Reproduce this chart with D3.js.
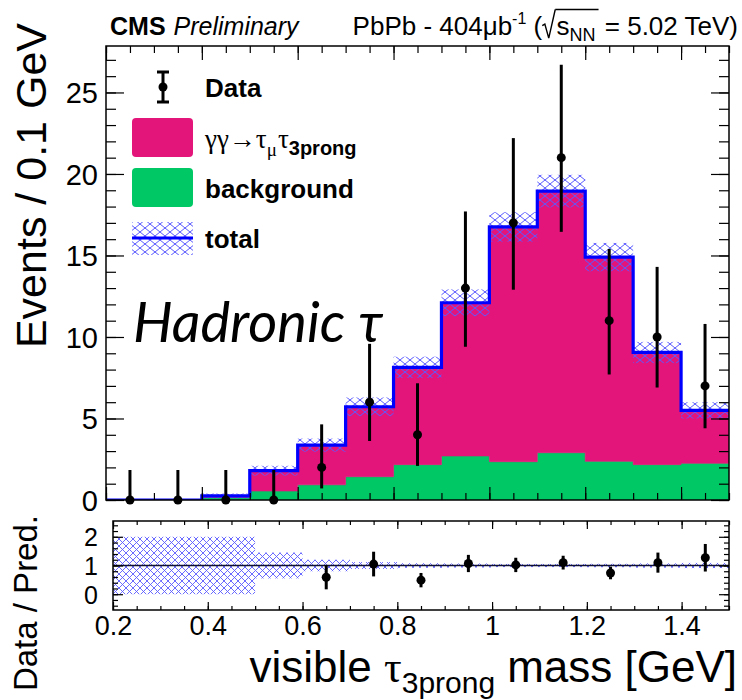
<!DOCTYPE html>
<html>
<head>
<meta charset="utf-8">
<script src="https://cdn.jsdelivr.net/npm/d3@7"></script>
<style>
  html, body { margin: 0; padding: 0; background: #fff; }
  svg { display: block; }
</style>
</head>
<body>
<script>
// ---- histogram content: 13 bins of 0.1 GeV between 0.2 and 1.5 GeV ----
const binCenters      = [0.25, 0.35, 0.45, 0.55, 0.65, 0.75, 0.85, 0.95, 1.05, 1.15, 1.25, 1.35, 1.45];
const binWidth        = 0.1;
const signalYield     = [0, 0, 0.10, 1.25, 2.44, 4.29, 5.97, 9.40, 14.40, 16.05, 12.53, 6.88, 3.25];
const backgroundYield = [0, 0, 0.15, 0.55, 0.93, 1.43, 2.17, 2.70, 2.35, 2.90, 2.37, 2.17, 2.25];
const totalUnc        = [0, 0, 0.15, 0.30, 0.40, 0.57, 0.65, 0.82, 0.90, 1.00, 0.87, 0.65, 0.50];

const dataCounts  = [0, 0, 0, 0, 2, 6, 4, 13, 17, 21, 11, 10, 7];
const dataErrLow  = [0, 0, 0, 0, 1.29, 2.38, 1.91, 3.60, 4.10, 4.55, 3.30, 3.10, 2.60];
const dataErrHigh = [1.84, 1.84, 1.84, 1.84, 2.64, 3.58, 3.16, 4.70, 5.20, 5.70, 4.40, 4.30, 3.80];

// ---- ratio panel ----
const ratioValues = [null, null, null, null, 0.59, 1.05, 0.49, 1.07, 1.02, 1.10, 0.74, 1.10, 1.27];
const ratioErrors = [null, null, null, null, 0.42, 0.43, 0.25, 0.30, 0.25, 0.24, 0.22, 0.35, 0.48];
const ratioBand   = [1, 1, 1, 0.45, 0.20, 0.12, 0.08, 0.07, 0.055, 0.055, 0.06, 0.075, 0.09];

// ---- axis ticks ----
const yTickValues     = [0, 5, 10, 15, 20, 25];
const ratioTickValues = [0, 1, 2];
const xTickValues     = [0.2, 0.4, 0.6, 0.8, 1.0, 1.2, 1.4];

const SANS  = "'Liberation Sans', Arial, Helvetica, sans-serif";
const SERIF = "'Liberation Serif', 'Times New Roman', serif";
const SIGNAL_COLOR = "#e3157b";
const BKG_COLOR    = "#00c865";
const TOTAL_COLOR  = "#0000ff";
const HATCH_COLOR  = "#5a5aff";

const W = 742, H = 700;
const svg = d3.select("body").append("svg").attr("width", W).attr("height", H);
svg.append("rect").attr("width", W).attr("height", H).attr("fill", "#fff");

// hatching used for the total uncertainty
const defs = svg.append("defs");
function hatch(id, w, h, sw) {
  const p = defs.append("pattern").attr("id", id)
    .attr("patternUnits", "userSpaceOnUse").attr("width", w).attr("height", h);
  p.append("path").attr("d", `M0,0L${w},${h}M0,${h}L${w},0M${-w},${h}L0,0M${w},${h}L${2*w},0`)
    .attr("stroke", HATCH_COLOR).attr("stroke-width", sw).attr("fill", "none");
}
hatch("hatchMain", 10, 8, 1);
hatch("hatchRatio", 7, 7, 0.9);

// ---- rich text helper (sub/superscripts, radicals) ----
function richText(parent, x, y, parts, opts = {}) {
  const g = parent.append("g");
  const inner = g.append("g");
  let cx = 0;
  let overStart = null, overEnd = null, overY = 0;
  parts.forEach(p => {
    if (p.radical) {
      const s = p.size;
      const rw = 0.55 * s;
      inner.append("path")
        .attr("d", `M${cx},${-0.36*s}L${cx+0.1*s},${-0.42*s}L${cx+0.25*s},${0.12*s}L${cx+0.5*s},${-0.98*s}`)
        .attr("fill", "none").attr("stroke", "#000").attr("stroke-width", 1.4);
      overStart = cx + 0.5 * s; overY = -0.98 * s;
      cx += rw;
      return;
    }
    const el = inner.append("text")
      .attr("y", p.dy || 0)
      .attr("xml:space", "preserve")
      .style("white-space", "pre")
      .style("font-family", p.family || SANS)
      .style("font-size", p.size + "px")
      .style("font-weight", p.weight || "normal")
      .style("font-style", p.style || "normal")
      .attr("fill", "#000")
      .text(p.t);
    const w = el.node().getComputedTextLength();
    el.attr("x", cx);
    cx += w + (p.gap || 0);
    if (p.over) overEnd = cx;
  });
  if (overStart !== null && overEnd !== null) {
    inner.append("line").attr("x1", overStart).attr("x2", overEnd + 1)
      .attr("y1", overY).attr("y2", overY).attr("stroke", "#000").attr("stroke-width", 1.4);
  }
  const off = opts.anchor === "end" ? -cx : opts.anchor === "middle" ? -cx / 2 : 0;
  inner.attr("transform", `translate(${off},0)`);
  g.attr("transform", `translate(${x},${y})` + (opts.rotate ? ` rotate(${opts.rotate})` : ""));
  return g;
}

// ---- main panel ----
const main = { left: 106, right: 729, top: 46, bottom: 500 };
const x = d3.scaleLinear().domain([0.2, 1.5]).range([main.left, main.right]);
const y = d3.scaleLinear().domain([0, 27.85]).range([main.bottom, main.top]);

defs.append("clipPath").attr("id", "clipMain").append("rect")
  .attr("x", main.left).attr("y", main.top)
  .attr("width", main.right - main.left).attr("height", main.bottom - main.top);

const rows = binCenters.map((c, i) => ({
  lo: c - binWidth / 2, hi: c + binWidth / 2,
  background: backgroundYield[i], signal: signalYield[i]
}));
const stacked = d3.stack().keys(["background", "signal"])(rows);

// step points: two per bin so that neighbouring bins meet with vertical edges
function stepPoints(series) {
  const pts = [];
  series.forEach((d, i) => {
    pts.push({ x: rows[i].lo, y0: d[0], y1: d[1] });
    pts.push({ x: rows[i].hi, y0: d[0], y1: d[1] });
  });
  return pts;
}
const stepArea = d3.area().x(d => x(d.x)).y0(d => y(d.y0)).y1(d => y(d.y1));

const plot = svg.append("g").attr("clip-path", "url(#clipMain)");
const fills = { background: BKG_COLOR, signal: SIGNAL_COLOR };
stacked.forEach(s => {
  plot.append("path").attr("d", stepArea(stepPoints(s)))
    .attr("fill", fills[s.key]).attr("stroke", fills[s.key]).attr("stroke-width", 0.6);
});

const totals = rows.map(r => r.background + r.signal);

// uncertainty band on the total prediction
rows.forEach((r, i) => {
  if (totalUnc[i] <= 0) return;
  plot.append("rect")
    .attr("x", x(r.lo)).attr("width", x(r.hi) - x(r.lo))
    .attr("y", y(totals[i] + totalUnc[i]))
    .attr("height", y(totals[i] - totalUnc[i]) - y(totals[i] + totalUnc[i]))
    .attr("fill", "url(#hatchMain)");
});

// total prediction outline
const outline = [];
rows.forEach((r, i) => { outline.push([r.lo, totals[i]]); outline.push([r.hi, totals[i]]); });
plot.append("path")
  .attr("d", d3.line().x(d => x(d[0])).y(d => y(d[1]))(outline))
  .attr("fill", "none").attr("stroke", TOTAL_COLOR).attr("stroke-width", 3.2);

// data points with asymmetric errors
const dataG = svg.append("g");
binCenters.forEach((c, i) => {
  dataG.append("line")
    .attr("x1", x(c)).attr("x2", x(c))
    .attr("y1", y(dataCounts[i] - dataErrLow[i])).attr("y2", y(dataCounts[i] + dataErrHigh[i]))
    .attr("stroke", "#000").attr("stroke-width", 3);
  dataG.append("circle").attr("cx", x(c)).attr("cy", y(dataCounts[i])).attr("r", 4.5).attr("fill", "#000");
});

// main axes: ticks point inside the frame
function tickAxis(g, axis) { g.call(axis); g.select(".domain").remove(); g.selectAll("line").attr("stroke", "#000").attr("stroke-width", 1.2); }
const minorX = d3.range(0.2, 1.5001, 0.05).map(v => +v.toFixed(2));
const minorY = d3.range(0, 28, 1);

tickAxis(svg.append("g").attr("transform", `translate(${main.left},0)`),
  d3.axisLeft(y).tickValues(minorY).tickSize(-10).tickFormat(""));
tickAxis(svg.append("g").attr("transform", `translate(${main.left},0)`),
  d3.axisLeft(y).tickValues(yTickValues).tickSize(-18).tickFormat(""));
tickAxis(svg.append("g").attr("transform", `translate(${main.right},0)`),
  d3.axisRight(y).tickValues(minorY).tickSize(-10).tickFormat(""));
tickAxis(svg.append("g").attr("transform", `translate(${main.right},0)`),
  d3.axisRight(y).tickValues(yTickValues).tickSize(-18).tickFormat(""));
tickAxis(svg.append("g").attr("transform", `translate(0,${main.top})`),
  d3.axisTop(x).tickValues(minorX).tickSize(-7).tickFormat(""));
tickAxis(svg.append("g").attr("transform", `translate(0,${main.top})`),
  d3.axisTop(x).tickValues(xTickValues).tickSize(-14).tickFormat(""));
tickAxis(svg.append("g").attr("transform", `translate(0,${main.bottom})`),
  d3.axisBottom(x).tickValues(minorX).tickSize(-7).tickFormat(""));
tickAxis(svg.append("g").attr("transform", `translate(0,${main.bottom})`),
  d3.axisBottom(x).tickValues(xTickValues).tickSize(-13).tickFormat(""));

const yLab = svg.append("g").attr("transform", `translate(${main.left},0)`)
  .call(d3.axisLeft(y).tickValues(yTickValues).tickSize(0).tickPadding(8).tickFormat(d3.format("d")));
yLab.select(".domain").remove();
yLab.selectAll("text").style("font-family", SANS).style("font-size", "29px").attr("fill", "#000").attr("dy", "0.36em");

svg.append("rect").attr("x", main.left).attr("y", main.top)
  .attr("width", main.right - main.left).attr("height", main.bottom - main.top)
  .attr("fill", "none").attr("stroke", "#000").attr("stroke-width", 1.5);

// ---- ratio panel ----
const rp = { left: 113, right: 729, top: 521, bottom: 610 };
const xr = d3.scaleLinear().domain([0.2, 1.5]).range([rp.left, rp.right]);
const yr = d3.scaleLinear().domain([-0.55, 2.55]).range([rp.bottom, rp.top]);

defs.append("clipPath").attr("id", "clipRatio").append("rect")
  .attr("x", rp.left).attr("y", rp.top).attr("width", rp.right - rp.left).attr("height", rp.bottom - rp.top);
const rplot = svg.append("g").attr("clip-path", "url(#clipRatio)");

binCenters.forEach((c, i) => {
  rplot.append("rect")
    .attr("x", xr(c - binWidth / 2))
    .attr("width", xr(c + binWidth / 2) - xr(c - binWidth / 2))
    .attr("y", yr(1 + ratioBand[i]))
    .attr("height", yr(1 - ratioBand[i]) - yr(1 + ratioBand[i]))
    .attr("fill", "url(#hatchRatio)");
});

rplot.append("line").attr("x1", rp.left).attr("x2", rp.right)
  .attr("y1", yr(1)).attr("y2", yr(1)).attr("stroke", "#101030").attr("stroke-width", 1.5);

binCenters.forEach((c, i) => {
  if (ratioValues[i] === null) return;
  rplot.append("line").attr("x1", xr(c)).attr("x2", xr(c))
    .attr("y1", yr(ratioValues[i] - ratioErrors[i])).attr("y2", yr(ratioValues[i] + ratioErrors[i]))
    .attr("stroke", "#000").attr("stroke-width", 3);
  rplot.append("circle").attr("cx", xr(c)).attr("cy", yr(ratioValues[i])).attr("r", 4.5).attr("fill", "#000");
});

const minorR = d3.range(-0.4, 2.41, 0.2).map(v => +v.toFixed(1));
tickAxis(svg.append("g").attr("transform", `translate(${rp.left},0)`),
  d3.axisLeft(yr).tickValues(minorR).tickSize(-5).tickFormat(""));
tickAxis(svg.append("g").attr("transform", `translate(${rp.left},0)`),
  d3.axisLeft(yr).tickValues(ratioTickValues).tickSize(-10).tickFormat(""));
tickAxis(svg.append("g").attr("transform", `translate(${rp.right},0)`),
  d3.axisRight(yr).tickValues(minorR).tickSize(-5).tickFormat(""));
tickAxis(svg.append("g").attr("transform", `translate(${rp.right},0)`),
  d3.axisRight(yr).tickValues(ratioTickValues).tickSize(-10).tickFormat(""));
tickAxis(svg.append("g").attr("transform", `translate(0,${rp.top})`),
  d3.axisTop(xr).tickValues(minorX).tickSize(-4).tickFormat(""));
tickAxis(svg.append("g").attr("transform", `translate(0,${rp.top})`),
  d3.axisTop(xr).tickValues(xTickValues).tickSize(-8).tickFormat(""));
tickAxis(svg.append("g").attr("transform", `translate(0,${rp.bottom})`),
  d3.axisBottom(xr).tickValues(minorX).tickSize(-4).tickFormat(""));
tickAxis(svg.append("g").attr("transform", `translate(0,${rp.bottom})`),
  d3.axisBottom(xr).tickValues(xTickValues).tickSize(-8).tickFormat(""));

const ryLab = svg.append("g").attr("transform", `translate(${rp.left},0)`)
  .call(d3.axisLeft(yr).tickValues(ratioTickValues).tickSize(0).tickPadding(15).tickFormat(d3.format("d")));
ryLab.select(".domain").remove();
ryLab.selectAll("text").style("font-family", SANS).style("font-size", "25px").attr("fill", "#000").attr("dy", "0.36em");

const xLab = svg.append("g").attr("transform", `translate(0,${rp.bottom})`)
  .call(d3.axisBottom(xr).tickValues(xTickValues).tickSize(0).tickPadding(6).tickFormat(d3.format("~g")));
xLab.select(".domain").remove();
xLab.selectAll("text").style("font-family", SANS).style("font-size", "27px").attr("fill", "#000").attr("dy", "0.71em");

svg.append("rect").attr("x", rp.left).attr("y", rp.top)
  .attr("width", rp.right - rp.left).attr("height", rp.bottom - rp.top)
  .attr("fill", "none").attr("stroke", "#000").attr("stroke-width", 1.5);

// ---- axis titles ----
richText(svg, 46, 23, [{ t: "Events / 0.1 GeV", size: 43 }], { anchor: "end", rotate: -90 });
richText(svg, 37, 515, [{ t: "Data / Pred.", size: 33 }], { anchor: "end", rotate: -90 });
richText(svg, 737, 682, [
  { t: "visible ", size: 44 },
  { t: "τ", size: 44, family: SERIF },
  { t: "3prong", size: 30, dy: 11, gap: 12 },
  { t: "mass [GeV]", size: 44 }
], { anchor: "end" });

// ---- header ----
richText(svg, 110, 35, [
  { t: "CMS", size: 25, weight: "bold", gap: 8 },
  { t: "Preliminary", size: 25, style: "italic" }
]);
richText(svg, 738, 35, [
  { t: "PbPb - 404μb", size: 26 },
  { t: "-1", size: 16, dy: -11 },
  { t: " (", size: 26 },
  { radical: true, size: 26 },
  { t: "s", size: 26, over: true },
  { t: "NN", size: 18, dy: 6, over: true, gap: 2 },
  { t: " = 5.02 TeV)", size: 26 }
], { anchor: "end" });

// ---- legend ----
const leg = svg.append("g");
leg.append("line").attr("x1", 163).attr("x2", 163).attr("y1", 72).attr("y2", 102).attr("stroke", "#000").attr("stroke-width", 3);
leg.append("line").attr("x1", 157).attr("x2", 169).attr("y1", 72).attr("y2", 72).attr("stroke", "#000").attr("stroke-width", 3);
leg.append("line").attr("x1", 157).attr("x2", 169).attr("y1", 102).attr("y2", 102).attr("stroke", "#000").attr("stroke-width", 3);
leg.append("circle").attr("cx", 163).attr("cy", 87).attr("r", 4.5).attr("fill", "#000");
richText(leg, 205, 97, [{ t: "Data", size: 26, weight: "bold" }]);

leg.append("rect").attr("x", 132).attr("y", 118).attr("width", 61).attr("height", 39).attr("rx", 4).attr("fill", SIGNAL_COLOR);
richText(leg, 205, 148, [
  { t: "γγ→τ", size: 27, family: SERIF },
  { t: "μ", size: 19, family: SERIF, dy: 8, gap: 1 },
  { t: "τ", size: 27, family: SERIF },
  { t: "3prong", size: 20, weight: "bold", dy: 7 }
]);

leg.append("rect").attr("x", 132).attr("y", 168).attr("width", 61).attr("height", 39).attr("rx", 4).attr("fill", BKG_COLOR);
richText(leg, 205, 198, [{ t: "background", size: 26, weight: "bold" }]);

leg.append("rect").attr("x", 132).attr("y", 222).attr("width", 61).attr("height", 33).attr("fill", "url(#hatchMain)");
leg.append("line").attr("x1", 132).attr("x2", 193).attr("y1", 238).attr("y2", 238).attr("stroke", TOTAL_COLOR).attr("stroke-width", 3);
richText(leg, 205, 248, [{ t: "total", size: 26, weight: "bold" }]);

// ---- channel annotation ----
svg.append("text").attr("x", 133).attr("y", 342)
  .style("font-family", "Lato, 'Open Sans', 'Noto Sans', sans-serif")
  .style("font-style", "italic").style("font-size", "56px").attr("fill", "#000")
  .text("Hadronic τ");
</script>
</body>
</html>
